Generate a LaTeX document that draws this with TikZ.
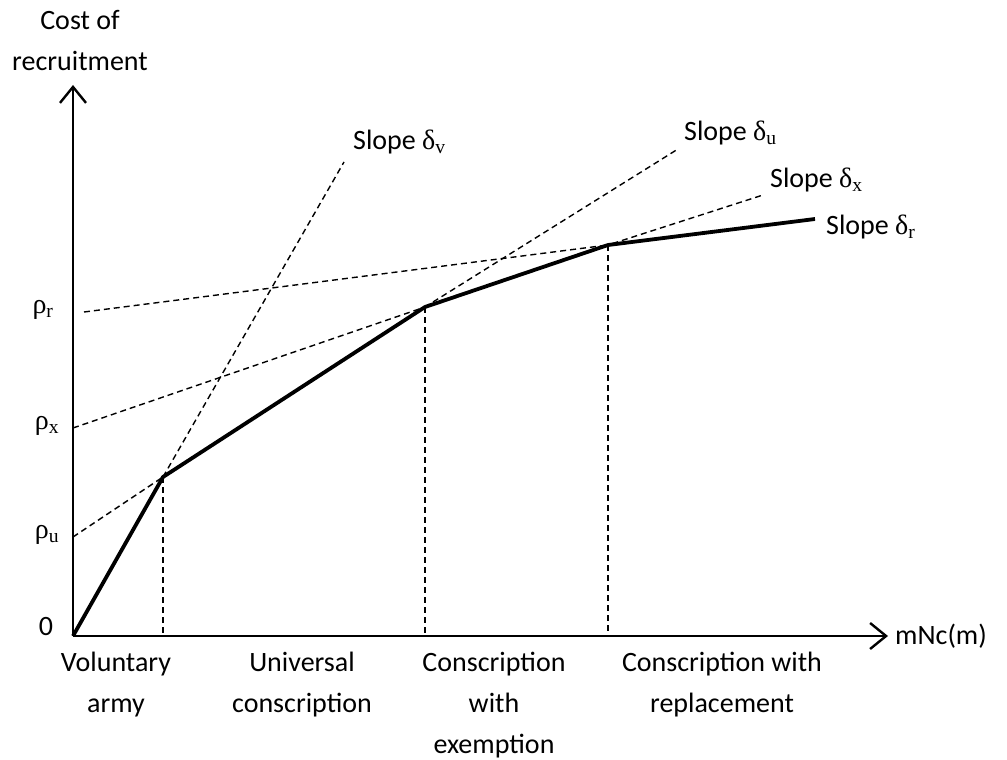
\documentclass[tikz,border=0pt]{standalone}
\usepackage{fontspec}
\setmainfont{Carlito}
\newfontfamily\greekfont{Liberation Serif}
\usetikzlibrary{arrows.meta}

\newcommand{\grk}[2]{{\greekfont #1\textsubscript{#2}}}

\tikzset{
	guide/.style = {line width = 1.4pt, dash pattern = on 6pt off 4pt},
	cost/.style = {line width = 3.8pt, line join = round},
	axis/.style = {line width = 2.4pt},
	regime/.style = {align = center, anchor = north, inner sep = 0pt},
	slopelabel/.style = {anchor = west, inner sep = 0pt}
}

\begin{document}
\begin{tikzpicture}[x = 1pt, y = -1pt, font = \fontsize{28}{41}\selectfont]
		\def\xend{888};
		\def\yend{85};
		
		\useasboundingbox (0,0) rectangle (1007,760);
		
		\coordinate (O) at (73,636);
		\coordinate (kinkv) at (163,477);
		\coordinate (kinku) at (425,307);
		\coordinate (kinkx) at (608,245);
		\coordinate (endr) at (815,219);
		
		\coordinate (rhou) at (73,537);
		\coordinate (rhox) at (73,428);
		\coordinate (rhor) at (84,312);
		
		\coordinate (endv) at (344,162);
		\coordinate (endu) at (678,149);
		\coordinate (endx) at (763,195);
		
		\begin{scope}[axis, -{Straight Barb[length = 16pt, width = 26pt, line width = 2.4pt]}]
		\draw (O) -- (\xend,636) node [right, inner sep = 6pt] (xlab) {mNc(m)};
		\draw (O) -- (73,\yend);
		\end{scope}
		
		\node [align = center, anchor = north, inner sep = 0pt] (ylab) at (80,10) {Cost of\\recruitment};
		
		\begin{scope}[guide]
		\draw (kinkv) -- (endv);
		\draw (rhou) -- (kinkv) -- (kinku) -- (endu);
		\draw (rhox) -- (kinku) -- (kinkx) -- (endx);
		\draw (rhor) -- (kinkx);
		\draw (kinkv) -- (kinkv |- O);
		\draw (kinku) -- (kinku |- O);
		\draw (kinkx) -- (kinkx |- O);
		\end{scope}
		
		\draw [cost] (O) -- (kinkv) -- (kinku) -- (kinkx) -- (endr);
		
		\node (zero) at (46,627) {0};
		\node (rhoulab) at (47,535) {\grk{ρ}{u}};
		\node (rhoxlab) at (47,426) {\grk{ρ}{x}};
		\node (rhorlab) at (43,310) {\grk{ρ}{r}};
		
		\node [slopelabel] (slopev) at (353,142) {Slope \grk{δ}{v}};
		\node [slopelabel] (slopeu) at (684,133) {Slope \grk{δ}{u}};
		\node [slopelabel] (slopex) at (770,180) {Slope \grk{δ}{x}};
		\node [slopelabel] (sloper) at (826,227) {Slope \grk{δ}{r}};
		
		\node [regime] (voluntary) at (116,652) {Voluntary\\army};
		\node [regime] (universal) at (302,652) {Universal\\conscription};
		\node [regime] (exemption) at (494,652) {Conscription\\with\\exemption};
		\node [regime] (replacement) at (722,652) {Conscription with\\replacement};
	\end{tikzpicture}
\end{document}
